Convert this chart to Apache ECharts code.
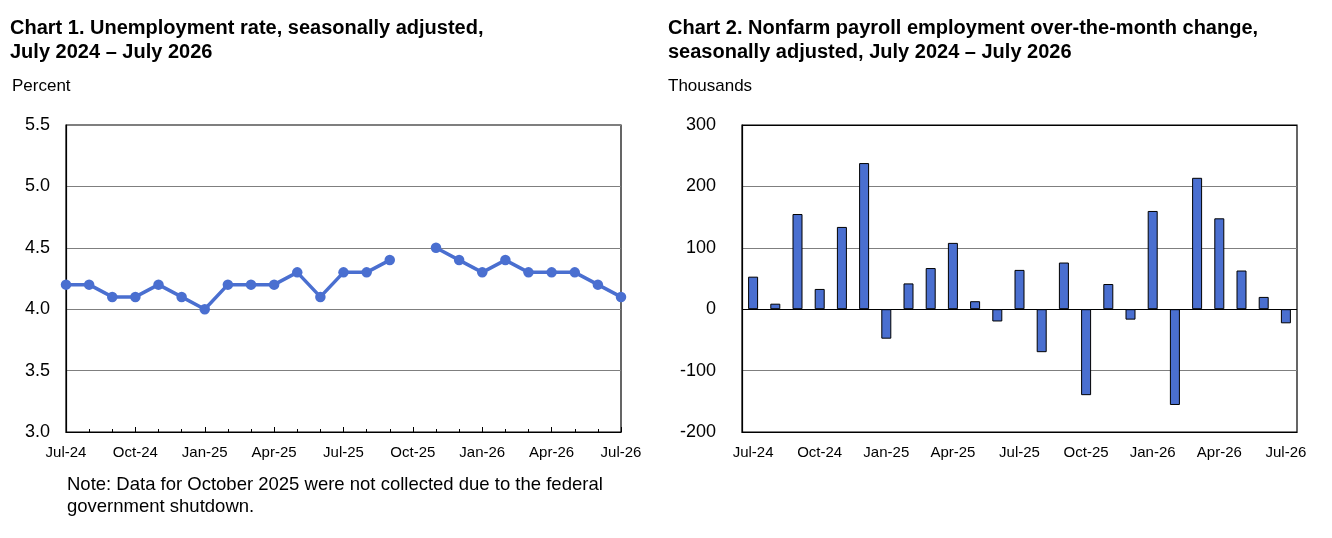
<!DOCTYPE html>
<html>
<head>
    <meta charset="utf-8">
    <title>Unemployment and payroll charts</title>
    <script src="https://cdn.jsdelivr.net/npm/echarts@6/dist/echarts.min.js"></script>
    <style>
        html, body { margin: 0; padding: 0; background: #fff; }
        #main { width: 1332px; height: 538px; }
    </style>
</head>
<body>
<div id="main"></div>
<script>
    // months shared by both charts
    var months = ['Jul-24', 'Aug-24', 'Sep-24', 'Oct-24', 'Nov-24', 'Dec-24',
        'Jan-25', 'Feb-25', 'Mar-25', 'Apr-25', 'May-25', 'Jun-25',
        'Jul-25', 'Aug-25', 'Sep-25', 'Oct-25', 'Nov-25', 'Dec-25',
        'Jan-26', 'Feb-26', 'Mar-26', 'Apr-26', 'May-26', 'Jun-26', 'Jul-26'];

    // chart 1: unemployment rate, percent (October 2025 not collected)
    var unemploymentRate = [4.2, 4.2, 4.1, 4.1, 4.2, 4.1,
        4.0, 4.2, 4.2, 4.2, 4.3, 4.1,
        4.3, 4.3, 4.4, null, 4.5, 4.4,
        4.3, 4.4, 4.3, 4.3, 4.3, 4.2, 4.1];

    // chart 2: nonfarm payroll over-the-month change, thousands
    var payrollChange = [53, 9, 155, 33, 134, 238,
        -48, 42, 67, 108, 13, -20,
        64, -70, 76, -140, 41, -17,
        160, -156, 214, 148, 63, 20, -23];

    var font = 'Liberation Sans, Arial, sans-serif';
    var blue = '#4a6fd0';

    var chart = echarts.init(document.getElementById('main'));

    var option = {
        animation: false,
        backgroundColor: '#fff',
        textStyle: { fontFamily: font, color: '#000' },
        title: [
            {
                text: 'Chart 1. Unemployment rate, seasonally adjusted,\nJuly 2024 \u2013 July 2026',
                left: 5, top: 11,
                textStyle: { fontFamily: font, fontSize: 20, fontWeight: 'bold', color: '#000', lineHeight: 24 }
            },
            {
                text: 'Chart 2. Nonfarm payroll employment over-the-month change,\nseasonally adjusted, July 2024 \u2013 July 2026',
                left: 663, top: 11,
                textStyle: { fontFamily: font, fontSize: 20, fontWeight: 'bold', color: '#000', lineHeight: 24 }
            },
            {
                text: 'Percent', left: 7, top: 73,
                textStyle: { fontFamily: font, fontSize: 17, fontWeight: 'normal', color: '#000' }
            },
            {
                text: 'Thousands', left: 663, top: 73,
                textStyle: { fontFamily: font, fontSize: 17, fontWeight: 'normal', color: '#000' }
            },
            {
                text: 'Note: Data for October 2025 were not collected due to the federal\ngovernment shutdown.',
                left: 62, top: 469,
                textStyle: { fontFamily: font, fontSize: 18.5, fontWeight: 'normal', color: '#000', lineHeight: 22 }
            }
        ],
        grid: [
            { left: 66, top: 125, width: 555, height: 307, show: true, borderColor: '#000', borderWidth: 1.2, backgroundColor: '#fff' },
            { left: 742, top: 125, width: 555, height: 307, show: true, borderColor: '#000', borderWidth: 1.2, backgroundColor: '#fff' }
        ],
        xAxis: [
            {
                gridIndex: 0, type: 'category', data: months, boundaryGap: false,
                axisLine: { lineStyle: { color: '#000', width: 1.2 } },
                axisTick: { show: true, inside: true, length: 3, interval: 0, lineStyle: { color: '#000' } },
                axisLabel: { interval: 2, fontSize: 15, color: '#000', fontFamily: font, margin: 13 },
                splitLine: { show: false }
            },
            {
                // longer ticks at labelled months
                gridIndex: 0, type: 'category', data: months, boundaryGap: false, position: 'bottom',
                axisLine: { show: false },
                axisTick: { show: true, inside: true, length: 5, interval: 2, lineStyle: { color: '#000' } },
                axisLabel: { show: false },
                splitLine: { show: false }
            },
            {
                gridIndex: 1, type: 'category', data: months, boundaryGap: true,
                axisLine: { onZero: false, lineStyle: { color: '#000', width: 1.2 } },
                axisTick: { show: false },
                axisLabel: { interval: 2, fontSize: 15, color: '#000', fontFamily: font, margin: 13 },
                splitLine: { show: false }
            }
        ],
        yAxis: [
            {
                gridIndex: 0, type: 'value', min: 3, max: 5.5, interval: 0.5,
                axisLine: { show: true, lineStyle: { color: '#000', width: 1.2 } },
                axisTick: { show: false },
                axisLabel: { fontSize: 18, color: '#000', fontFamily: font, margin: 16,
                    formatter: function (v) { return v.toFixed(1); } },
                splitLine: { show: true, lineStyle: { color: '#7f7f7f', width: 1.2 } }
            },
            {
                gridIndex: 1, type: 'value', min: -200, max: 300, interval: 100,
                axisLine: { show: true, lineStyle: { color: '#000', width: 1.2 } },
                axisTick: { show: false },
                axisLabel: { fontSize: 18, color: '#000', fontFamily: font, margin: 26 },
                splitLine: { show: true, lineStyle: { color: ['#000', '#7f7f7f', '#000', '#7f7f7f', '#7f7f7f', '#000'], width: 1.2 } }
            }
        ],
        series: [
            {
                name: 'Unemployment rate', type: 'line',
                xAxisIndex: 0, yAxisIndex: 0,
                data: unemploymentRate,
                connectNulls: false,
                symbol: 'circle', symbolSize: 10.5,
                lineStyle: { color: blue, width: 3.5 },
                itemStyle: { color: blue },
                z: 5
            },
            {
                name: 'Payroll change', type: 'bar',
                xAxisIndex: 2, yAxisIndex: 1,
                data: payrollChange,
                barWidth: 10,
                itemStyle: { color: blue, borderColor: '#000', borderWidth: 1 },
                z: 5
            }
        ]
    };

    chart.setOption(option);
</script>
</body>
</html>
